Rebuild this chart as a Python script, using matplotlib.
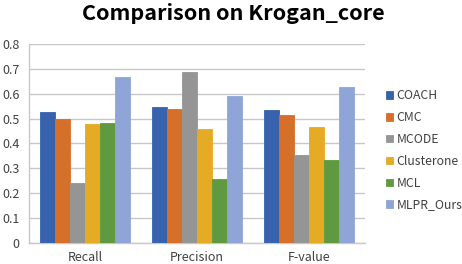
import numpy as np
import matplotlib
matplotlib.use("Agg")
import matplotlib.pyplot as plt

plt.rcParams['font.family'] = ['Noto Sans CJK SC', 'DejaVu Sans']

categories = ["Recall", "Precision", "F-value"]
methods = ["COACH", "CMC", "MCODE", "Clusterone", "MCL", "MLPR_Ours"]
coach = [0.525, 0.545, 0.534]
cmc = [0.497, 0.540, 0.516]
mcode = [0.240, 0.688, 0.355]
clusterone = [0.477, 0.460, 0.468]
mcl = [0.481, 0.256, 0.333]
mlpr = [0.668, 0.590, 0.627]
colors = ["#3762ad", "#d56f29", "#959595", "#e5ab24", "#5f9a41", "#8fa5d7"]

series = [coach, cmc, mcode, clusterone, mcl, mlpr]

fig = plt.figure(figsize=(4.62, 2.64), dpi=100)
ax = fig.add_axes([0.063, 0.0795, 0.727, 0.754])

x = np.arange(len(categories))
w = 0.8 / len(methods)
for i, (vals, name, c) in enumerate(zip(series, methods, colors)):
    ax.bar(x - 0.4 + w * (i + 0.5), vals, w, color=c, label=name,
           edgecolor=c, linewidth=0.6, zorder=3)

ax.set_xlim(-0.5, 2.5)
ax.set_ylim(0, 0.8)
ax.set_yticks(np.arange(0, 0.81, 0.1))
ax.set_yticklabels(["0"] + [f"{v:.1f}" for v in np.arange(0.1, 0.81, 0.1)])
ax.set_xticks(x)
ax.set_xticklabels(categories)
ax.tick_params(length=0, labelsize=9, colors="#404040", pad=6)
ax.tick_params(axis="y", pad=7)
ax.grid(axis="y", color="#c8c8c8", linewidth=1, zorder=0)
for s in ["top", "right"]:
    ax.spines[s].set_visible(False)
for s in ["left", "bottom"]:
    ax.spines[s].set_color("#c8c8c8")
    ax.spines[s].set_linewidth(1)

fig.suptitle("Comparison on Krogan_core", x=0.505, y=0.99, fontsize=15.5,
             fontweight="bold")

leg = ax.legend(loc="center left", bbox_to_anchor=(1.03, 0.465), frameon=False,
                fontsize=8.8, handlelength=0.55, handleheight=0.55,
                handletextpad=0.3, labelspacing=0.72)
for t in leg.get_texts():
    t.set_color("#404040")

fig.savefig("out.png", dpi=100)
